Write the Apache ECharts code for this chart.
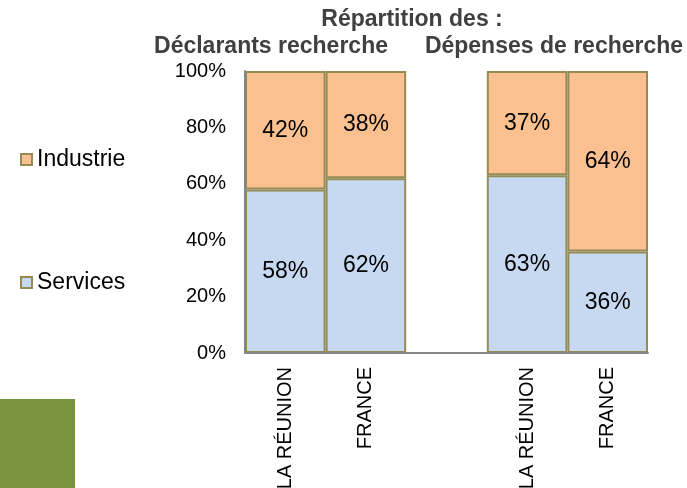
<!DOCTYPE html>
<html>
<head>
<meta charset="utf-8">
<script src="https://cdn.jsdelivr.net/npm/echarts@6/dist/echarts.min.js"></script>
<style>
html,body{margin:0;padding:0;background:#fff;}
#chart{width:687px;height:488px;}
</style>
</head>
<body>
<div id="chart"></div>
<script>
var categories = ['LA RÉUNION', 'FRANCE', '', 'LA RÉUNION', 'FRANCE'];
var services = [58, 62, null, 63, 36];
var industrie = [42, 38, null, 37, 64];
var yTicks = [0, 20, 40, 60, 80, 100];
var titleMain = 'Répartition des :';
var titleLeft = 'Déclarants recherche';
var titleRight = 'Dépenses de recherche';

var FONT = '"Liberation Sans", Arial, sans-serif';
var chart = echarts.init(document.getElementById('chart'));
var barStyle = function (color) {
  return { color: color, borderColor: '#948A54', borderWidth: 2 };
};
chart.setOption({
  animation: false,
  textStyle: { fontFamily: FONT },
  graphic: [
    { type: 'rect', shape: { x: 0, y: 399, width: 75, height: 89 }, style: { fill: '#77933C' }, silent: true },
    { type: 'text', x: 412, y: 20, style: { text: titleMain, fill: '#404040', font: 'bold 23px ' + FONT, align: 'center', verticalAlign: 'middle' } },
    { type: 'text', x: 271, y: 47, style: { text: titleLeft, fill: '#404040', font: 'bold 23px ' + FONT, align: 'center', verticalAlign: 'middle' } },
    { type: 'text', x: 554, y: 47, style: { text: titleRight, fill: '#404040', font: 'bold 23px ' + FONT, align: 'center', verticalAlign: 'middle' } }
  ],
  legend: [
    { data: ['Industrie'], orient: 'vertical', left: 20, top: 148, icon: 'rect', itemWidth: 11, itemHeight: 11, itemGap: 6, padding: 0,
      textStyle: { fontSize: 23, color: '#000', fontFamily: FONT } },
    { data: ['Services'], orient: 'vertical', left: 20, top: 271, icon: 'rect', itemWidth: 11, itemHeight: 11, itemGap: 6, padding: 0,
      textStyle: { fontSize: 23, color: '#000', fontFamily: FONT } }
  ],
  grid: { left: 245, right: 39, top: 71, bottom: 135, containLabel: false, outerBoundsMode: 'none' },
  xAxis: {
    type: 'category',
    data: categories,
    z: 10,
    axisLine: { show: true, lineStyle: { color: '#868686', width: 2 } },
    axisTick: { show: false },
    axisLabel: { interval: 0, rotate: 90, margin: 14, fontSize: 20, color: '#000', fontFamily: FONT }
  },
  yAxis: {
    type: 'value',
    min: yTicks[0],
    max: yTicks[yTicks.length - 1],
    interval: 20,
    z: 10,
    axisLine: { show: true, lineStyle: { color: '#868686', width: 2 } },
    axisTick: { show: false },
    splitLine: { show: false },
    axisLabel: { formatter: '{value}%', margin: 19, fontSize: 20, color: '#000', fontFamily: FONT }
  },
  series: [
    {
      name: 'Services', type: 'bar', stack: 'total', barWidth: '100%', data: services,
      itemStyle: barStyle('#C6D9F1'),
      label: { show: true, position: 'inside', formatter: '{c}%', fontSize: 23, color: '#000', fontFamily: FONT }
    },
    {
      name: 'Industrie', type: 'bar', stack: 'total', barWidth: '100%', data: industrie,
      itemStyle: barStyle('#FAC090'),
      label: { show: true, position: 'inside', formatter: '{c}%', fontSize: 23, color: '#000', fontFamily: FONT }
    }
  ]
});
</script>
</body>
</html>
